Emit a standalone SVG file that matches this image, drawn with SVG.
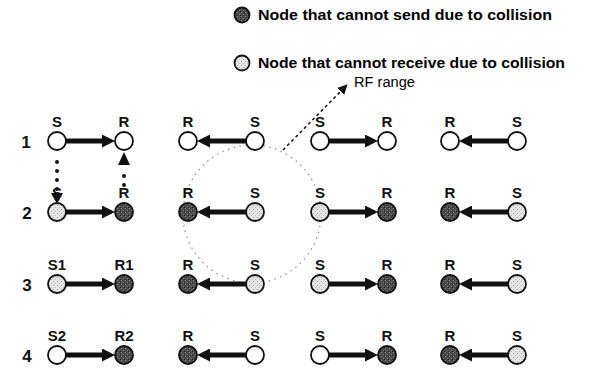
<svg xmlns="http://www.w3.org/2000/svg" width="595" height="380" viewBox="0 0 595 380">
  <style>
    .node { stroke: #111; stroke-width: 1.8; }
    .white { fill: #ffffff; }
    .dark { fill: url(#stipDark); }
    .light { fill: url(#stipLight); }
    .lbl { font-family: "Liberation Sans", Arial, sans-serif; font-weight: bold; font-size: 15px; fill: #111; text-anchor: middle; }
    .row { font-family: "Liberation Sans", Arial, sans-serif; font-weight: bold; font-size: 17px; fill: #111; text-anchor: middle; }
    .legend { font-family: "Liberation Sans", Arial, sans-serif; font-weight: bold; font-size: 15px; fill: #000; }
    .link { stroke: #111; stroke-width: 5; fill: none; marker-end: url(#head); }
    .dots { stroke: #111; stroke-width: 4; stroke-linecap: round; stroke-dasharray: 0 9; fill: none; }
  </style>
  <defs>
    <pattern id="stipDark" width="4" height="4" patternUnits="userSpaceOnUse">
      <rect width="4" height="4" fill="#4a4a4a"/>
      <rect x="1" y="0" width="1" height="1" fill="#8a8a8a"/>
      <rect x="3" y="2" width="1" height="1" fill="#7a7a7a"/>
      <rect x="0" y="3" width="1" height="1" fill="#222"/>
    </pattern>
    <pattern id="stipLight" width="4" height="4" patternUnits="userSpaceOnUse">
      <rect width="4" height="4" fill="#e4e4e4"/>
      <rect x="1" y="1" width="1" height="1" fill="#a8a8a8"/>
      <rect x="3" y="3" width="1" height="1" fill="#bdbdbd"/>
    </pattern>
    <marker id="head" viewBox="0 0 13 13" refX="3" refY="6.5" markerWidth="13" markerHeight="13" markerUnits="userSpaceOnUse" orient="auto">
      <path d="M0,0 L13,6.5 L0,13 Z" fill="#111"/>
    </marker>
    <marker id="smallHead" viewBox="0 0 10 10" refX="2" refY="5" markerWidth="10" markerHeight="10" markerUnits="userSpaceOnUse" orient="auto">
      <path d="M0,0 L10,5 L0,10 Z" fill="#111"/>
    </marker>
  </defs>

  <!-- legend -->
  <g id="legend">
    <circle class="node dark" cx="242" cy="15" r="7.5"/>
    <text class="legend" x="258" y="20" textLength="294" lengthAdjust="spacingAndGlyphs">Node that cannot send due to collision</text>
    <circle class="node light" cx="242" cy="63" r="7.5"/>
    <text class="legend" x="258" y="68" textLength="307" lengthAdjust="spacingAndGlyphs">Node that cannot receive due to collision</text>
  </g>

  <!-- RF range circle and its callout -->
  <g id="rf-range">
    <circle cx="252" cy="214" r="69" fill="none" stroke="#8c8c8c" stroke-width="1.2" stroke-dasharray="1.5 4.5"/>
    <line x1="283" y1="150" x2="342" y2="90" stroke="#111" stroke-width="1.5" stroke-dasharray="3 3" marker-end="url(#smallHead)"/>
    <text x="354" y="87" font-family="Liberation Sans, Arial, sans-serif" font-size="14" fill="#000" textLength="61" lengthAdjust="spacingAndGlyphs">RF range</text>
  </g>

  <!-- row numbers -->
  <g id="row-numbers">
    <text class="row" x="26" y="148">1</text>
    <text class="row" x="27" y="219">2</text>
    <text class="row" x="27" y="291">3</text>
    <text class="row" x="27" y="362">4</text>
  </g>

  <!-- connectors -->
  <g id="connectors">
    <!-- row 1 -->
    <line class="link" x1="66" y1="141" x2="105" y2="141"/>
    <line class="link" x1="246" y1="141" x2="207" y2="141"/>
    <line class="link" x1="329" y1="141" x2="368" y2="141"/>
    <line class="link" x1="508" y1="141" x2="469" y2="141"/>
    <!-- row 2 -->
    <line class="link" x1="66" y1="212" x2="105" y2="212"/>
    <line class="link" x1="246" y1="212" x2="207" y2="212"/>
    <line class="link" x1="329" y1="212" x2="368" y2="212"/>
    <line class="link" x1="508" y1="212" x2="469" y2="212"/>
    <!-- row 3 -->
    <line class="link" x1="66" y1="284" x2="105" y2="284"/>
    <line class="link" x1="246" y1="284" x2="207" y2="284"/>
    <line class="link" x1="329" y1="284" x2="368" y2="284"/>
    <line class="link" x1="508" y1="284" x2="469" y2="284"/>
    <!-- row 4 -->
    <line class="link" x1="66" y1="355" x2="105" y2="355"/>
    <line class="link" x1="246" y1="355" x2="207" y2="355"/>
    <line class="link" x1="329" y1="355" x2="368" y2="355"/>
    <line class="link" x1="508" y1="355" x2="469" y2="355"/>
  </g>

  <!-- node pairs -->
  <g id="row1">
    <text class="lbl" x="57" y="127">S</text><text class="lbl" x="124" y="127">R</text>
    <text class="lbl" x="188" y="127">R</text><text class="lbl" x="255" y="127">S</text>
    <text class="lbl" x="320" y="127">S</text><text class="lbl" x="387" y="127">R</text>
    <text class="lbl" x="450" y="127">R</text><text class="lbl" x="517" y="127">S</text>
    <circle id="n1a" class="node white" cx="57" cy="141" r="9"/>
    <circle id="n1b" class="node white" cx="124" cy="141" r="9"/>
    <circle id="n1c" class="node white" cx="188" cy="141" r="9"/>
    <circle id="n1d" class="node white" cx="255" cy="141" r="9"/>
    <circle id="n1e" class="node white" cx="320" cy="141" r="9"/>
    <circle id="n1f" class="node white" cx="387" cy="141" r="9"/>
    <circle id="n1g" class="node white" cx="450" cy="141" r="9"/>
    <circle id="n1h" class="node white" cx="517" cy="141" r="9"/>
  </g>
  <g id="row2">
    <text class="lbl" x="57" y="198">S</text><text class="lbl" x="124" y="198">R</text>
    <text class="lbl" x="188" y="198">R</text><text class="lbl" x="255" y="198">S</text>
    <text class="lbl" x="320" y="198">S</text><text class="lbl" x="387" y="198">R</text>
    <text class="lbl" x="450" y="198">R</text><text class="lbl" x="517" y="198">S</text>
    <circle id="n2a" class="node light" cx="57" cy="212" r="9"/>
    <circle id="n2b" class="node dark" cx="124" cy="212" r="9"/>
    <circle id="n2c" class="node dark" cx="188" cy="212" r="9"/>
    <circle id="n2d" class="node light" cx="255" cy="212" r="9"/>
    <circle id="n2e" class="node light" cx="320" cy="212" r="9"/>
    <circle id="n2f" class="node dark" cx="387" cy="212" r="9"/>
    <circle id="n2g" class="node dark" cx="450" cy="212" r="9"/>
    <circle id="n2h" class="node light" cx="517" cy="212" r="9"/>
  </g>
  <g id="row3">
    <text class="lbl" x="57" y="270">S1</text><text class="lbl" x="124" y="270">R1</text>
    <text class="lbl" x="188" y="270">R</text><text class="lbl" x="255" y="270">S</text>
    <text class="lbl" x="320" y="270">S</text><text class="lbl" x="387" y="270">R</text>
    <text class="lbl" x="450" y="270">R</text><text class="lbl" x="517" y="270">S</text>
    <circle id="n3a" class="node light" cx="57" cy="284" r="9"/>
    <circle id="n3b" class="node dark" cx="124" cy="284" r="9"/>
    <circle id="n3c" class="node dark" cx="188" cy="284" r="9"/>
    <circle id="n3d" class="node light" cx="255" cy="284" r="9"/>
    <circle id="n3e" class="node light" cx="320" cy="284" r="9"/>
    <circle id="n3f" class="node dark" cx="387" cy="284" r="9"/>
    <circle id="n3g" class="node dark" cx="450" cy="284" r="9"/>
    <circle id="n3h" class="node light" cx="517" cy="284" r="9"/>
  </g>
  <g id="row4">
    <text class="lbl" x="57" y="341">S2</text><text class="lbl" x="124" y="341">R2</text>
    <text class="lbl" x="188" y="341">R</text><text class="lbl" x="255" y="341">S</text>
    <text class="lbl" x="320" y="341">S</text><text class="lbl" x="387" y="341">R</text>
    <text class="lbl" x="450" y="341">R</text><text class="lbl" x="517" y="341">S</text>
    <circle id="n4a" class="node white" cx="57" cy="355" r="9"/>
    <circle id="n4b" class="node dark" cx="124" cy="355" r="9"/>
    <circle id="n4c" class="node dark" cx="188" cy="355" r="9"/>
    <circle id="n4d" class="node white" cx="255" cy="355" r="9"/>
    <circle id="n4e" class="node white" cx="320" cy="355" r="9"/>
    <circle id="n4f" class="node dark" cx="387" cy="355" r="9"/>
    <circle id="n4g" class="node dark" cx="450" cy="355" r="9"/>
    <circle id="n4h" class="node light" cx="517" cy="355" r="9"/>
  </g>

  <!-- dotted hand-over arrows between rows 1 and 2 -->
  <g id="dotted-links">
    <line class="dots" x1="57" y1="162" x2="57" y2="190"/>
    <path d="M51,193 L63,193 L57,204 Z" fill="#111"/>
    <line class="dots" x1="124" y1="176" x2="124" y2="194"/>
    <path d="M118,165 L130,165 L124,152 Z" fill="#111"/>
  </g>
</svg>
